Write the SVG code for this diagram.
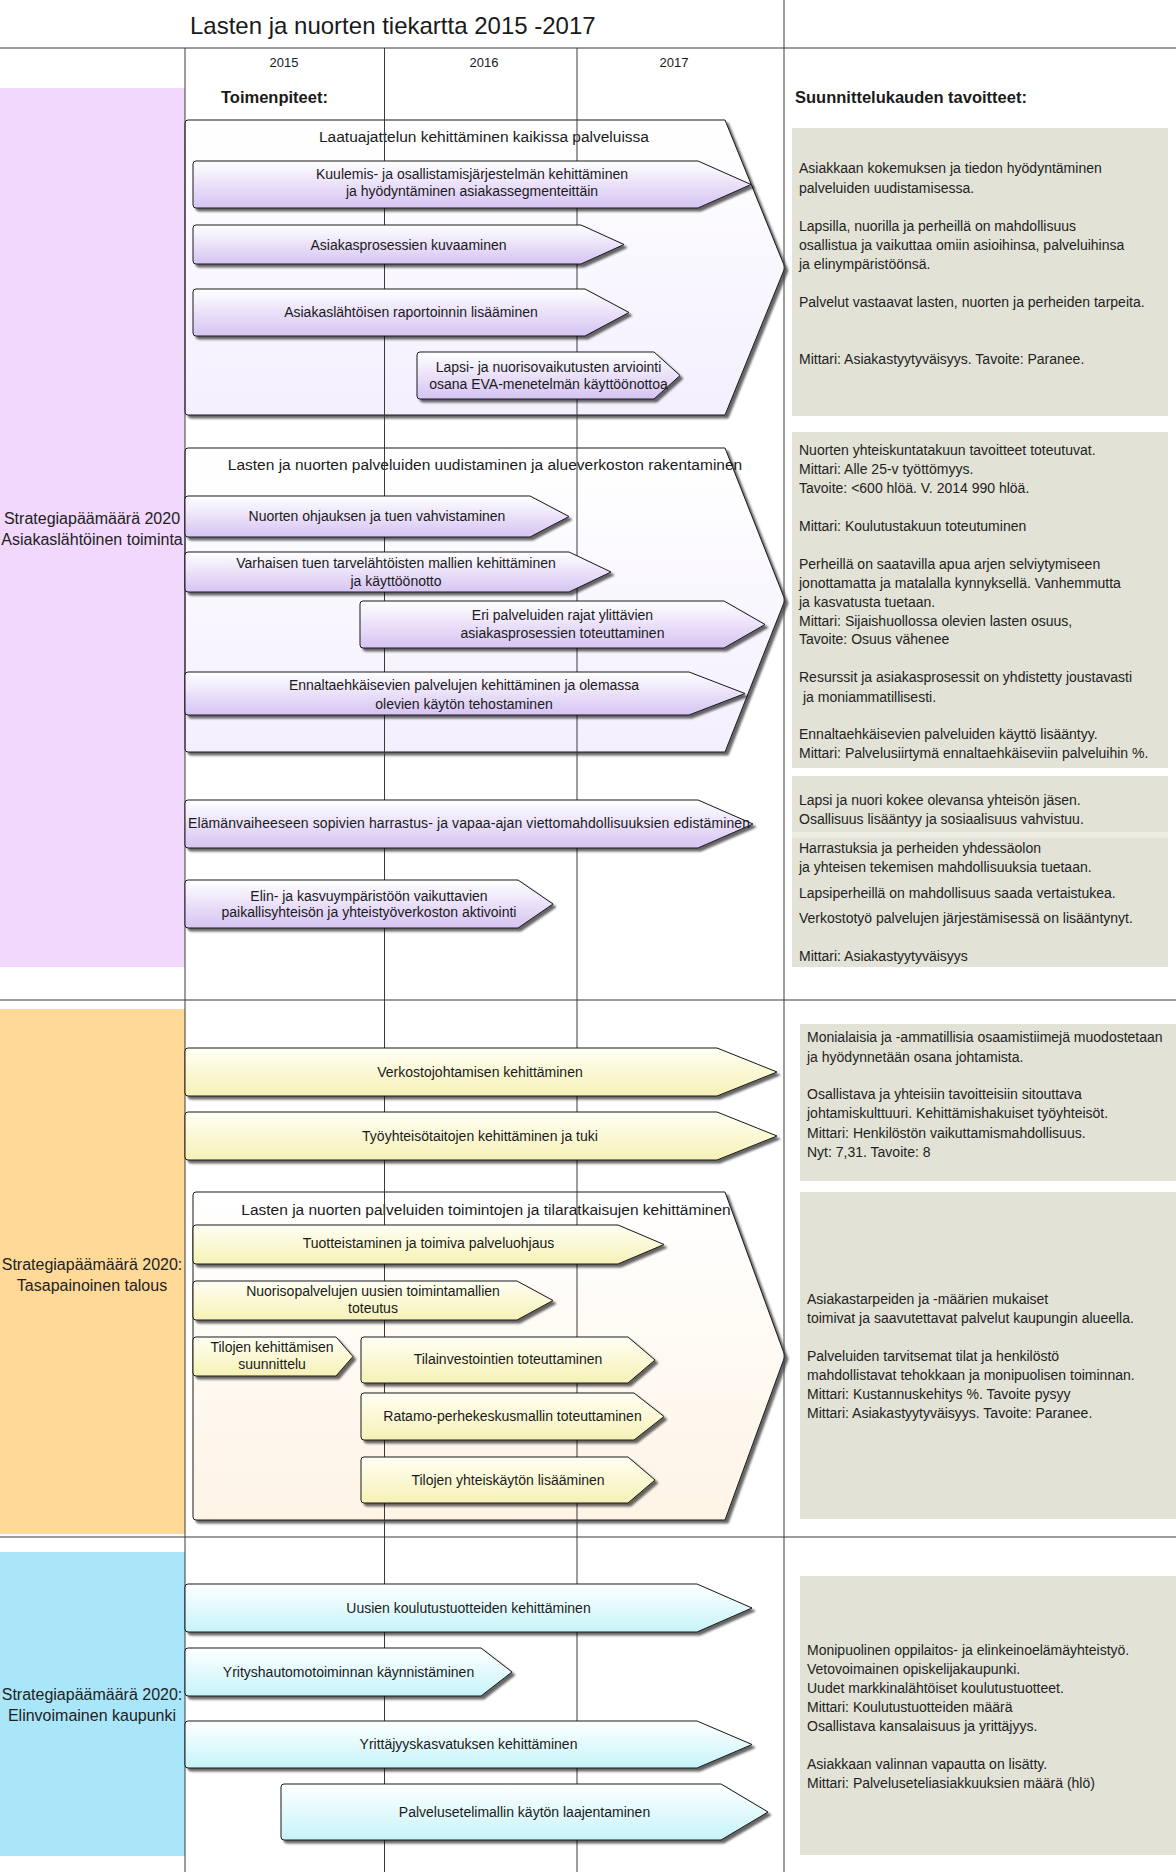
<svg xmlns="http://www.w3.org/2000/svg" width="1176" height="1872" viewBox="0 0 1176 1872">
<defs>
<style>
text{font-family:"Liberation Sans",Arial,sans-serif;fill:#1a1a1a}
.lbl{font-size:14px;text-anchor:middle}
.ct{font-size:15.5px;text-anchor:middle}
.pt{font-size:14px;fill:#222}
.lane{font-size:16px;text-anchor:middle;fill:#222}
.hd{font-size:16.5px;font-weight:bold}
.yr{font-size:13px;text-anchor:middle}
.bar{stroke:#1a1a1a;stroke-width:1;filter:url(#sh)}
.grid{stroke:#3a3a3a;stroke-width:1;fill:none}
.panel{fill:#E2E2D6}
</style>
<filter id="sh" x="-5%" y="-10%" width="115%" height="135%">
<feDropShadow dx="3" dy="3" stdDeviation="1.3" flood-color="#000" flood-opacity="0.6"/>
</filter>
<linearGradient id="gP" x1="0" y1="0" x2="0" y2="1"><stop offset="0" stop-color="#FFFFFF"/><stop offset="1" stop-color="#D6C3F3"/></linearGradient>
<linearGradient id="gPC" x1="0" y1="0" x2="0" y2="1"><stop offset="0" stop-color="#FFFFFF"/><stop offset="1" stop-color="#F4EFFE"/></linearGradient>
<linearGradient id="gY" x1="0" y1="0" x2="0" y2="1"><stop offset="0" stop-color="#FFFFF4"/><stop offset="1" stop-color="#F6F1B6"/></linearGradient>
<linearGradient id="gYC" x1="0" y1="0" x2="0" y2="1"><stop offset="0" stop-color="#FFFFFF"/><stop offset="1" stop-color="#FEF4E6"/></linearGradient>
<linearGradient id="gB" x1="0" y1="0" x2="0" y2="1"><stop offset="0" stop-color="#FFFFFF"/><stop offset="1" stop-color="#C6F4FA"/></linearGradient>
</defs>
<rect width="1176" height="1872" fill="#FFFFFF"/>

<g id="lanes">
<rect x="0" y="88" width="185" height="879" fill="#F1D8FC"/>
<rect x="0" y="1009" width="185" height="525" fill="#FFD998"/>
<rect x="0" y="1552" width="185" height="304" fill="#AAE6FA"/>
</g>

<g id="headers">
<text x="190" y="34" style="font-size:24px">Lasten ja nuorten tiekartta 2015 -2017</text>
<text class="yr" x="284" y="67">2015</text>
<text class="yr" x="484" y="67">2016</text>
<text class="yr" x="674" y="67">2017</text>
<text class="hd" x="221" y="103">Toimenpiteet:</text>
<text class="hd" x="795" y="103">Suunnittelukauden tavoitteet:</text>
</g>

<g id="lane-labels">
<text class="lane" x="92" y="524">Strategiapäämäärä 2020</text>
<text class="lane" x="92" y="545">Asiakaslähtöinen toiminta</text>
<text class="lane" x="92" y="1270">Strategiapäämäärä 2020:</text>
<text class="lane" x="92" y="1291">Tasapainoinen talous</text>
<text class="lane" x="92" y="1700">Strategiapäämäärä 2020:</text>
<text class="lane" x="92" y="1721">Elinvoimainen kaupunki</text>
</g>

<g id="container-laatu">
<path class="bar" fill="url(#gPC)" d="M188,120 H725 L785,267.5 L725,415 H188 Q185,415 185,412 V123 Q185,120 188,120 Z"/>
<text class="ct" x="484" y="142">Laatuajattelun kehittäminen kaikissa palveluissa</text>
</g>
<g id="container-uudistaminen">
<path class="bar" fill="url(#gPC)" d="M188,448 H725 L785,600 L725,752 H188 Q185,752 185,749 V451 Q185,448 188,448 Z"/>
<text class="ct" x="485" y="469.5">Lasten ja nuorten palveluiden uudistaminen ja alueverkoston rakentaminen</text>
</g>
<g id="container-tilat">
<path class="bar" fill="url(#gYC)" d="M196,1192 H725 L785,1356 L725,1520 H196 Q193,1520 193,1517 V1195 Q193,1192 196,1192 Z"/>
<text class="ct" x="486" y="1214.5">Lasten ja nuorten palveluiden toimintojen ja tilaratkaisujen kehittäminen</text>
</g>

<g id="grid" class="grid">
<line x1="0" y1="48" x2="1176" y2="48"/>
<line x1="0" y1="1000" x2="1176" y2="1000"/>
<line x1="0" y1="1537" x2="1176" y2="1537"/>
<line x1="185" y1="48" x2="185" y2="1872"/>
<line x1="384.5" y1="48" x2="384.5" y2="1872"/>
<line x1="577" y1="48" x2="577" y2="1872"/>
<line x1="784" y1="0" x2="784" y2="1872"/>
</g>

<g id="bar-kuulemis">
<path class="bar" fill="url(#gP)" d="M196,161 H698 L751,184.5 L698,208 H196 Q193,208 193,205 V164 Q193,161 196,161 Z"/>
<text class="lbl" x="472" y="179">Kuulemis- ja osallistamisjärjestelmän kehittäminen</text>
<text class="lbl" x="472" y="196">ja hyödyntäminen asiakassegmenteittäin</text>
</g>
<g id="bar-asiakasprosessit">
<path class="bar" fill="url(#gP)" d="M196,225 H581 L624,244.5 L581,264 H196 Q193,264 193,261 V228 Q193,225 196,225 Z"/>
<text class="lbl" x="408.5" y="250">Asiakasprosessien kuvaaminen</text>
</g>
<g id="bar-raportointi">
<path class="bar" fill="url(#gP)" d="M196,289 H585 L629,312.5 L585,336 H196 Q193,336 193,333 V292 Q193,289 196,289 Z"/>
<text class="lbl" x="411" y="317">Asiakaslähtöisen raportoinnin lisääminen</text>
</g>
<g id="bar-eva">
<path class="bar" fill="url(#gP)" d="M420,352 H654 L680,375.5 L654,399 H420 Q417,399 417,396 V355 Q417,352 420,352 Z"/>
<text class="lbl" x="548.5" y="372">Lapsi- ja nuorisovaikutusten arviointi</text>
<text class="lbl" x="548.5" y="389">osana EVA-menetelmän käyttöönottoa</text>
</g>

<g id="bar-ohjaus">
<path class="bar" fill="url(#gP)" d="M188,496 H530 L569,516.5 L530,537 H188 Q185,537 185,534 V499 Q185,496 188,496 Z"/>
<text class="lbl" x="377" y="521">Nuorten ohjauksen ja tuen vahvistaminen</text>
</g>
<g id="bar-varhainen">
<path class="bar" fill="url(#gP)" d="M188,552 H569 L611,572 L569,592 H188 Q185,592 185,589 V555 Q185,552 188,552 Z"/>
<text class="lbl" x="396" y="568">Varhaisen tuen tarvelähtöisten mallien kehittäminen</text>
<text class="lbl" x="396" y="586">ja käyttöönotto</text>
</g>
<g id="bar-rajat">
<path class="bar" fill="url(#gP)" d="M363,601 H724 L765,624.5 L724,648 H363 Q360,648 360,645 V604 Q360,601 363,601 Z"/>
<text class="lbl" x="562.5" y="620">Eri palveluiden rajat ylittävien</text>
<text class="lbl" x="562.5" y="638">asiakasprosessien toteuttaminen</text>
</g>
<g id="bar-ennaltaehkaisy">
<path class="bar" fill="url(#gP)" d="M188,672 H689 L745,693.5 L689,715 H188 Q185,715 185,712 V675 Q185,672 188,672 Z"/>
<text class="lbl" x="464" y="690">Ennaltaehkäisevien palvelujen kehittäminen ja olemassa</text>
<text class="lbl" x="464" y="709">olevien käytön tehostaminen</text>
</g>
<g id="bar-harrastus">
<path class="bar" fill="url(#gP)" d="M188,800 H698 L753,824 L698,848 H188 Q185,848 185,845 V803 Q185,800 188,800 Z"/>
<text class="lbl" x="469" y="828" textLength="562">Elämänvaiheeseen sopivien harrastus- ja vapaa-ajan viettomahdollisuuksien edistäminen</text>
</g>
<g id="bar-elinymparisto">
<path class="bar" fill="url(#gP)" d="M188,880 H518 L553,904 L518,928 H188 Q185,928 185,925 V883 Q185,880 188,880 Z"/>
<text class="lbl" x="369" y="901">Elin- ja kasvuympäristöön vaikuttavien</text>
<text class="lbl" x="369" y="917">paikallisyhteisön ja yhteistyöverkoston aktivointi</text>
</g>

<g id="bar-verkostojohtaminen">
<path class="bar" fill="url(#gY)" d="M188,1048 H717 L777,1072 L717,1096 H188 Q185,1096 185,1093 V1051 Q185,1048 188,1048 Z"/>
<text class="lbl" x="480" y="1077">Verkostojohtamisen kehittäminen</text>
</g>
<g id="bar-tyoyhteiso">
<path class="bar" fill="url(#gY)" d="M188,1112 H717 L777,1136 L717,1160 H188 Q185,1160 185,1157 V1115 Q185,1112 188,1112 Z"/>
<text class="lbl" x="480" y="1141">Työyhteisötaitojen kehittäminen ja tuki</text>
</g>
<g id="bar-tuotteistaminen">
<path class="bar" fill="url(#gY)" d="M196,1225 H618 L664,1244.5 L618,1264 H196 Q193,1264 193,1261 V1228 Q193,1225 196,1225 Z"/>
<text class="lbl" x="428.5" y="1248">Tuotteistaminen ja toimiva palveluohjaus</text>
</g>
<g id="bar-nuorisopalvelut">
<path class="bar" fill="url(#gY)" d="M196,1281 H517 L553,1300.5 L517,1320 H196 Q193,1320 193,1317 V1284 Q193,1281 196,1281 Z"/>
<text class="lbl" x="373" y="1296">Nuorisopalvelujen uusien toimintamallien</text>
<text class="lbl" x="373" y="1313">toteutus</text>
</g>
<g id="bar-tilasuunnittelu">
<path class="bar" fill="url(#gY)" d="M196,1337 H336 L353,1356.5 L336,1376 H196 Q193,1376 193,1373 V1340 Q193,1337 196,1337 Z"/>
<text class="lbl" x="272" y="1352">Tilojen kehittämisen</text>
<text class="lbl" x="272" y="1369">suunnittelu</text>
</g>
<g id="bar-tilainvestoinnit">
<path class="bar" fill="url(#gY)" d="M364,1337 H628 L655,1360 L628,1383 H364 Q361,1383 361,1380 V1340 Q361,1337 364,1337 Z"/>
<text class="lbl" x="508" y="1364">Tilainvestointien toteuttaminen</text>
</g>
<g id="bar-ratamo">
<path class="bar" fill="url(#gY)" d="M364,1393 H634 L664,1416.5 L634,1440 H364 Q361,1440 361,1437 V1396 Q361,1393 364,1393 Z"/>
<text class="lbl" x="512.5" y="1421">Ratamo-perhekeskusmallin toteuttaminen</text>
</g>
<g id="bar-yhteiskaytto">
<path class="bar" fill="url(#gY)" d="M364,1457 H628 L655,1480 L628,1503 H364 Q361,1503 361,1500 V1460 Q361,1457 364,1457 Z"/>
<text class="lbl" x="508" y="1485">Tilojen yhteiskäytön lisääminen</text>
</g>

<g id="bar-koulutustuotteet">
<path class="bar" fill="url(#gB)" d="M188,1584 H697 L752,1608 L697,1632 H188 Q185,1632 185,1629 V1587 Q185,1584 188,1584 Z"/>
<text class="lbl" x="468.5" y="1613">Uusien koulutustuotteiden kehittäminen</text>
</g>
<g id="bar-yrityshautomo">
<path class="bar" fill="url(#gB)" d="M188,1648 H481 L512,1672 L481,1696 H188 Q185,1696 185,1693 V1651 Q185,1648 188,1648 Z"/>
<text class="lbl" x="348.5" y="1677">Yrityshautomotoiminnan käynnistäminen</text>
</g>
<g id="bar-yrittajyys">
<path class="bar" fill="url(#gB)" d="M188,1721 H697 L752,1744.5 L697,1768 H188 Q185,1768 185,1765 V1724 Q185,1721 188,1721 Z"/>
<text class="lbl" x="468.5" y="1749">Yrittäjyyskasvatuksen kehittäminen</text>
</g>
<g id="bar-palveluseteli">
<path class="bar" fill="url(#gB)" d="M284,1784 H721 L768,1812 L721,1840 H284 Q281,1840 281,1837 V1787 Q281,1784 284,1784 Z"/>
<text class="lbl" x="524.5" y="1817">Palvelusetelimallin käytön laajentaminen</text>
</g>

<g id="goal-1">
<rect class="panel" x="792" y="128" width="376" height="288"/>
<text class="pt" x="799" y="173">Asiakkaan kokemuksen ja tiedon hyödyntäminen</text>
<text class="pt" x="799" y="193">palveluiden uudistamisessa.</text>
<text class="pt" x="799" y="231">Lapsilla, nuorilla ja perheillä on mahdollisuus</text>
<text class="pt" x="799" y="250">osallistua ja vaikuttaa omiin asioihinsa, palveluihinsa</text>
<text class="pt" x="799" y="269">ja elinympäristöönsä.</text>
<text class="pt" x="799" y="307">Palvelut vastaavat lasten, nuorten ja perheiden tarpeita.</text>
<text class="pt" x="799" y="364">Mittari: Asiakastyytyväisyys. Tavoite: Paranee.</text>
</g>
<g id="goal-2">
<rect class="panel" x="792" y="432" width="376" height="336"/>
<text class="pt" x="799" y="455">Nuorten yhteiskuntatakuun tavoitteet toteutuvat.</text>
<text class="pt" x="799" y="474">Mittari: Alle 25-v työttömyys.</text>
<text class="pt" x="799" y="493">Tavoite: &lt;600 hlöä. V. 2014 990 hlöä.</text>
<text class="pt" x="799" y="531">Mittari: Koulutustakuun toteutuminen</text>
<text class="pt" x="799" y="569">Perheillä on saatavilla apua arjen selviytymiseen</text>
<text class="pt" x="799" y="588">jonottamatta ja matalalla kynnyksellä. Vanhemmutta</text>
<text class="pt" x="799" y="607">ja kasvatusta tuetaan.</text>
<text class="pt" x="799" y="626">Mittari: Sijaishuollossa olevien lasten osuus,</text>
<text class="pt" x="799" y="644">Tavoite: Osuus vähenee</text>
<text class="pt" x="799" y="682">Resurssit ja asiakasprosessit on yhdistetty joustavasti</text>
<text class="pt" x="803" y="702">ja moniammatillisesti.</text>
<text class="pt" x="799" y="739">Ennaltaehkäisevien palveluiden käyttö lisääntyy.</text>
<text class="pt" x="799" y="758">Mittari: Palvelusiirtymä ennaltaehkäiseviin palveluihin %.</text>
</g>
<g id="goal-3">
<rect class="panel" x="792" y="776" width="376" height="191"/>
<rect x="792" y="832" width="376" height="6" fill="#ECECE3"/>
<text class="pt" x="799" y="805">Lapsi ja nuori kokee olevansa yhteisön jäsen.</text>
<text class="pt" x="799" y="824">Osallisuus lisääntyy ja sosiaalisuus vahvistuu.</text>
<text class="pt" x="799" y="853">Harrastuksia ja perheiden yhdessäolon</text>
<text class="pt" x="799" y="872">ja yhteisen tekemisen mahdollisuuksia tuetaan.</text>
<text class="pt" x="799" y="898">Lapsiperheillä on mahdollisuus saada vertaistukea.</text>
<text class="pt" x="799" y="923">Verkostotyö palvelujen järjestämisessä on lisääntynyt.</text>
<text class="pt" x="799" y="961">Mittari: Asiakastyytyväisyys</text>
</g>
<g id="goal-4">
<rect class="panel" x="800" y="1024" width="376" height="157"/>
<text class="pt" x="807" y="1042">Monialaisia ja -ammatillisia osaamistiimejä muodostetaan</text>
<text class="pt" x="807" y="1062">ja hyödynnetään osana johtamista.</text>
<text class="pt" x="807" y="1099">Osallistava ja yhteisiin tavoitteisiin sitouttava</text>
<text class="pt" x="807" y="1118">johtamiskulttuuri. Kehittämishakuiset työyhteisöt.</text>
<text class="pt" x="807" y="1138">Mittari: Henkilöstön vaikuttamismahdollisuus.</text>
<text class="pt" x="807" y="1157">Nyt: 7,31. Tavoite: 8</text>
</g>
<g id="goal-5">
<rect class="panel" x="800" y="1192" width="376" height="327"/>
<text class="pt" x="807" y="1304">Asiakastarpeiden ja -määrien mukaiset</text>
<text class="pt" x="807" y="1323">toimivat ja saavutettavat palvelut kaupungin alueella.</text>
<text class="pt" x="807" y="1361">Palveluiden tarvitsemat tilat ja henkilöstö</text>
<text class="pt" x="807" y="1380">mahdollistavat tehokkaan ja monipuolisen toiminnan.</text>
<text class="pt" x="807" y="1399">Mittari: Kustannuskehitys %. Tavoite pysyy</text>
<text class="pt" x="807" y="1418">Mittari: Asiakastyytyväisyys. Tavoite: Paranee.</text>
</g>
<g id="goal-6">
<rect class="panel" x="800" y="1576" width="376" height="279"/>
<text class="pt" x="807" y="1655">Monipuolinen oppilaitos- ja elinkeinoelämäyhteistyö.</text>
<text class="pt" x="807" y="1674">Vetovoimainen opiskelijakaupunki.</text>
<text class="pt" x="807" y="1693">Uudet markkinalähtöiset koulutustuotteet.</text>
<text class="pt" x="807" y="1712">Mittari: Koulutustuotteiden määrä</text>
<text class="pt" x="807" y="1731">Osallistava kansalaisuus ja yrittäjyys.</text>
<text class="pt" x="807" y="1769">Asiakkaan valinnan vapautta on lisätty.</text>
<text class="pt" x="807" y="1788">Mittari: Palveluseteliasiakkuuksien määrä (hlö)</text>
</g>

<g id="connectors"></g>
</svg>
